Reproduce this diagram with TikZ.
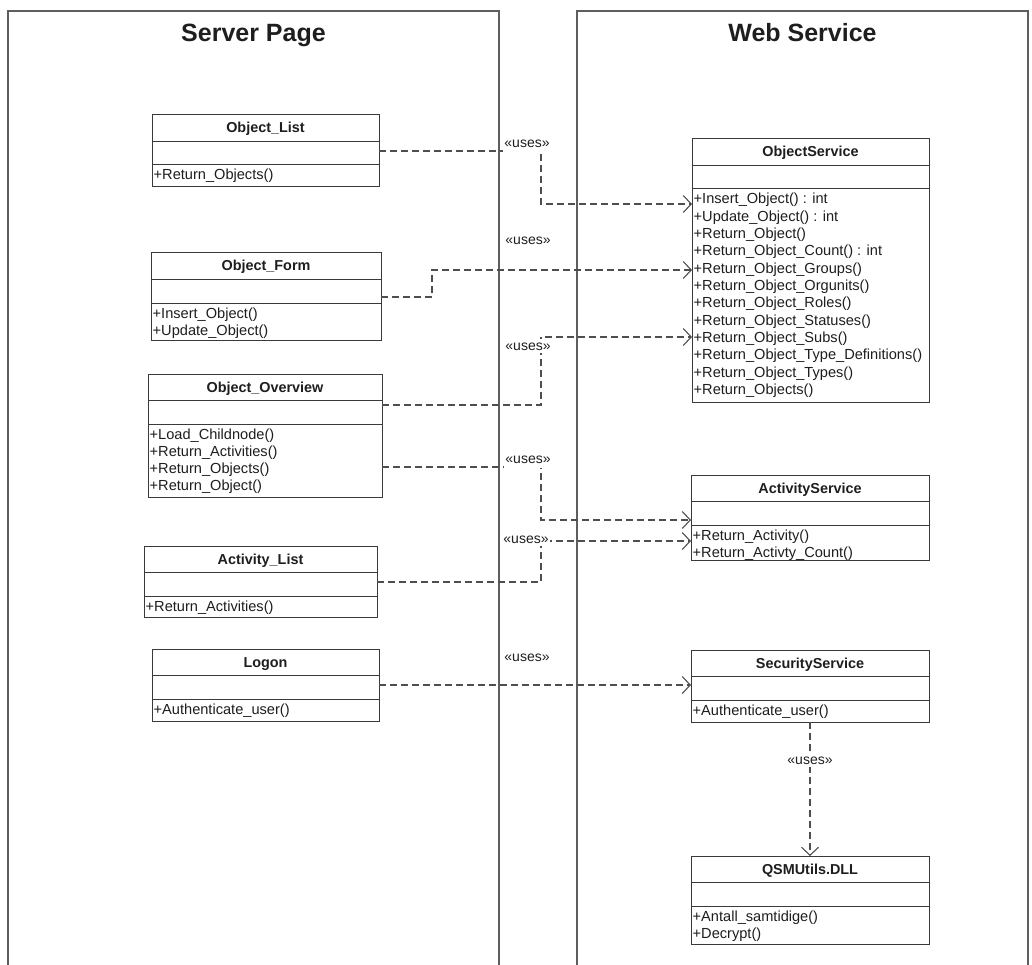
\documentclass[tikz,border=0pt]{standalone}
\usepackage{fontspec}
\setmainfont{Liberation Sans}
\usetikzlibrary{arrows.meta,calc}

\definecolor{ink}{HTML}{1E1E1E}
\definecolor{boxline}{HTML}{3A3A3A}
\definecolor{frameline}{HTML}{5E5E5E}
\definecolor{linkline}{HTML}{4E4E4E}

\tikzset{
  frame/.style={draw=frameline, line width=1.3pt, inner sep=0pt, outer sep=0pt},
  frametitle/.style={font=\fontsize{25}{30}\selectfont\bfseries, text=ink, anchor=base, inner sep=0pt},
  classbox/.style={draw=boxline, line width=1pt, fill=white, inner sep=0pt, outer sep=0pt},
  classrule/.style={draw=boxline, line width=1pt},
  classname/.style={font=\fontsize{14.4}{17}\selectfont\bfseries, text=ink, anchor=base, inner sep=0pt},
  member/.style={font=\fontsize{14.6}{17}\selectfont, text=ink, inner sep=0pt},
  uses/.style={draw=linkline, line width=1.2pt, dash pattern=on 7pt off 4pt,
    -{Straight Barb[length=8pt,width=17pt,line width=1.1pt]}},
  stereo/.style={font=\fontsize{14}{17}\selectfont, text=ink, anchor=base, inner xsep=1.5pt, inner ysep=3pt},
  stereobg/.style={stereo, fill=white}
}

% UML class: name, left x, top y, width, height, title, operations
\newcommand\umlclass[7]{%
  \node[classbox, minimum width=#4pt, minimum height=#5pt, anchor=north west] (#1) at (#2,#3) {};
  \node[classname] (#1-name) at ({#2+#4/2},{#3+18}) {#6};
  \draw[classrule] (#2,{#3+26.5}) -- ({#2+#4},{#3+26.5});
  \draw[classrule] (#2,{#3+50}) -- ({#2+#4},{#3+50});
  \foreach \m [count=\k from 0] in {#7} {
    \node[member, anchor=base west] (#1-op\k) at ({#2+1.5},{#3+65+17.3*\k}) {\m};
  }%
}

\begin{document}
\begin{tikzpicture}[x=1pt, y=-1pt]
\useasboundingbox (0,0) rectangle (1032,965);
\clip (0,0) rectangle (1032,965);

% swimlanes
\node[frame, minimum width=491pt, minimum height=1000pt, anchor=north west] (serverpage) at (8,11) {};
\node[frame, minimum width=451pt, minimum height=1000pt, anchor=north west] (webservice) at (577,11) {};
\node[frametitle] (serverpage-title) at ([yshift=-31pt]serverpage.north) {Server Page};
\node[frametitle] (webservice-title) at ([yshift=-31pt]webservice.north) {Web Service};

% server page classes
\umlclass{ol}{152}{115}{227}{72}{Object\_List}{+Return\_Objects()}
\umlclass{of}{151}{253}{230}{87}{Object\_Form}{+Insert\_Object(),+Update\_Object()}
\umlclass{oo}{148}{374}{234}{123}{Object\_Overview}{+Load\_Childnode(),+Return\_Activities(),+Return\_Objects(),+Return\_Object()}
\umlclass{al}{144}{546}{233}{71}{Activity\_List}{+Return\_Activities()}
\umlclass{lg}{152}{649}{227}{72}{Logon}{+Authenticate\_user()}

% web service classes
\umlclass{os}{692}{139}{237}{263}{ObjectService}{+Insert\_Object() : int,+Update\_Object() : int,+Return\_Object(),+Return\_Object\_Count() : int,+Return\_Object\_Groups(),+Return\_Object\_Orgunits(),+Return\_Object\_Roles(),+Return\_Object\_Statuses(),+Return\_Object\_Subs(),+Return\_Object\_Type\_Definitions(),+Return\_Object\_Types(),+Return\_Objects()}
\umlclass{as}{691}{475}{238}{85}{ActivityService}{+Return\_Activity(),+Return\_Activty\_Count()}
\umlclass{ss}{691}{650}{238}{72}{SecurityService}{+Authenticate\_user()}
\umlclass{qs}{691}{856}{238}{88}{QSMUtils.DLL}{+Antall\_samtidige(),+Decrypt()}

% dependencies
\draw[uses] (ol.east) -- ++(162,0) |- ([yshift=-65pt]os.north west);
\draw[uses] ([yshift=-0.5pt]of.east) -- ++(51,0) |- ([yshift=-131pt]os.north west);
\draw[uses] ([yshift=-31pt]oo.north east) -- ++(159,0) |- ([yshift=-198pt]os.north west);
\draw[uses] ([yshift=-93pt]oo.north east) -- ++(159,0) |- ([yshift=-45pt]as.north west);
\draw[uses] ([yshift=-0.5pt]al.east) -- ++(164,0) |- ([yshift=-66pt]as.north west);
\draw[uses] (lg.east) -- (lg.east -| ss.west);
\draw[uses] (ss.south) -- (qs.north);

% stereotypes
\node[stereobg, inner ysep=4.5pt] (u1) at (527,148) {«uses»};
\node[stereo] (u2) at (528,245) {«uses»};
\node[stereobg] (u3) at (528,350) {«uses»};
\node[stereobg, inner ysep=4.5pt] (u4) at (528,463.5) {«uses»};
\node[stereobg] (u5) at (526,543) {«uses»};
\node[stereo] (u6) at (527,661) {«uses»};
\node[stereobg] (u7) at (810,764) {«uses»};
\end{tikzpicture}
\end{document}
